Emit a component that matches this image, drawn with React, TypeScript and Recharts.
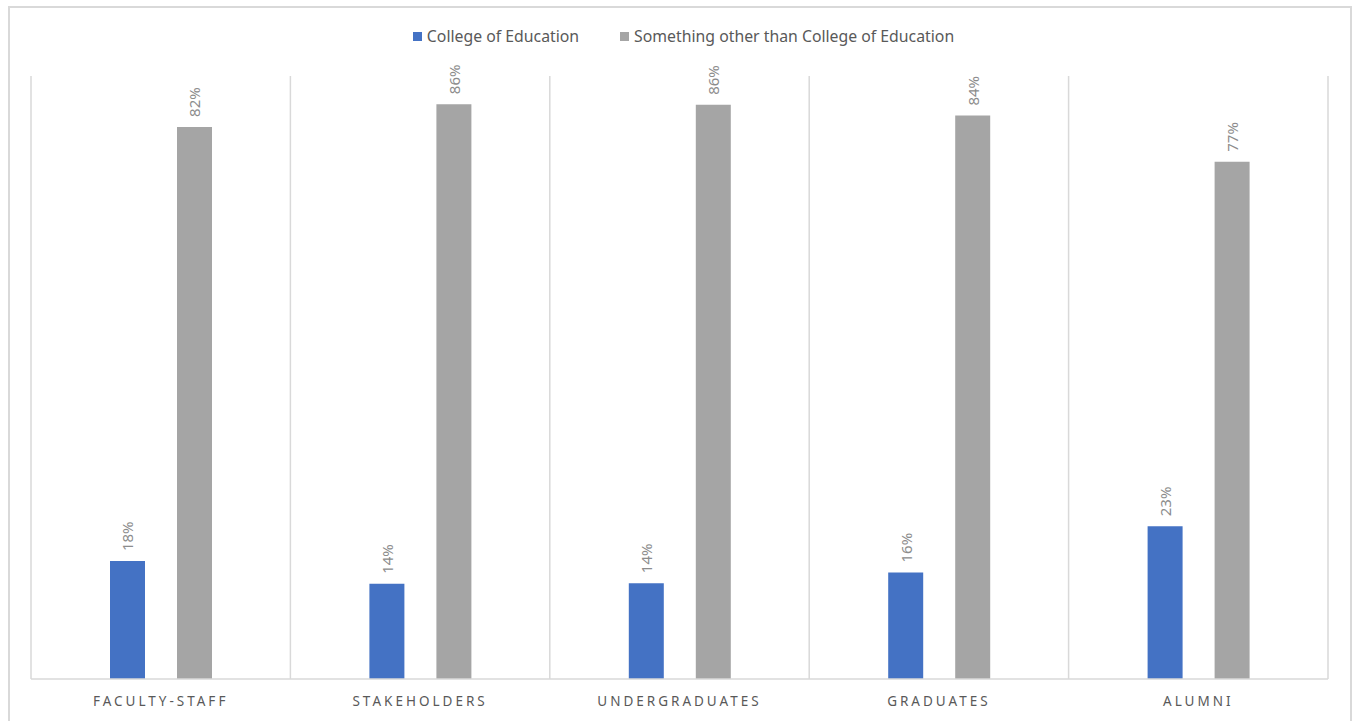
import React from "react";
import { BarChart, Bar, XAxis, YAxis, CartesianGrid, Legend, LabelList } from "recharts";

const categories = ["FACULTY-STAFF", "STAKEHOLDERS", "UNDERGRADUATES", "GRADUATES", "ALUMNI"];
const collegeOfEducation = [0.176, 0.142, 0.143, 0.159, 0.228];
const somethingOther = [0.824, 0.858, 0.857, 0.841, 0.772];
const seriesNames = ["College of Education", "Something other than College of Education"];
const seriesColors = ["#4472C4", "#A5A5A5"];

const data = categories.map((c, i) => ({
  name: c,
  coe: collegeOfEducation[i],
  other: somethingOther[i],
}));

const FONT = "'Noto Sans', 'Open Sans', sans-serif";

const pct = (v: number) => `${Math.round(v * 100)}%`;

const RotLabel = (props: any) => {
  const { x, y, width, value } = props;
  const cx = x + width / 2;
  const ty = y - 10;
  return (
    <text
      x={cx}
      y={ty}
      transform={`rotate(-90 ${cx} ${ty})`}
      textAnchor="start"
      dominantBaseline="central"
      fill="#8c8c8c"
      fontSize={15}
      fontFamily={FONT}
    >
      {pct(value)}
    </text>
  );
};

const Tick = (props: any) => {
  const { x, y, payload } = props;
  return (
    <text
      x={x}
      y={y + 19}
      textAnchor="middle"
      fill="#595959"
      fontSize={13.5}
      fontFamily={FONT}
      letterSpacing={3}
    >
      {payload.value}
    </text>
  );
};

const LegendContent = () => (
  <div
    style={{
      display: "flex",
      justifyContent: "center",
      gap: 41,
      fontFamily: FONT,
      fontSize: 15.8,
      color: "#595959",
      paddingLeft: 14,
    }}
  >
    {seriesNames.map((n, i) => (
      <div key={n} style={{ display: "flex", alignItems: "center" }}>
        <span
          style={{
            display: "inline-block",
            width: 9,
            height: 9,
            background: seriesColors[i],
            marginRight: 5,
          }}
        />
        <span>{n}</span>
      </div>
    ))}
  </div>
);

export default function App() {
  return (
    <div style={{ position: "absolute", left: 0, top: 0, width: 1353, height: 721, background: "#fff" }}>
      <div
        style={{
          position: "absolute",
          left: 8,
          top: 6,
          width: 1344,
          height: 730,
          border: "2px solid #d9d9d9",
          boxSizing: "border-box",
        }}
      />
      <div style={{ position: "absolute", left: 0, top: 0 }}>
        <BarChart
          width={1353}
          height={721}
          data={data}
          margin={{ top: 76, right: 25, left: 31, bottom: 0 }}
          barSize={35}
          barGap={32}
        >
          <CartesianGrid
            horizontal={false}
            stroke="#d9d9d9"
            strokeWidth={1.5}
            verticalCoordinatesGenerator={({ offset }: any) =>
              Array.from({ length: categories.length + 1 }, (_, i) => offset.left + (i * offset.width) / categories.length)
            }
          />
          <XAxis
            dataKey="name"
            height={42}
            tickLine={false}
            axisLine={{ stroke: "#d9d9d9", strokeWidth: 1.5 }}
            tick={<Tick />}
            interval={0}
          />
          <YAxis hide domain={[0, 0.9]} />
          <Legend
            layout="vertical"
            align="center"
            verticalAlign="middle"
            wrapperStyle={{ top: 25, left: 0, width: 1353 }}
            content={<LegendContent />}
          />
          <Bar dataKey="coe" name={seriesNames[0]} fill={seriesColors[0]} isAnimationActive={false}>
            <LabelList dataKey="coe" content={<RotLabel />} />
          </Bar>
          <Bar dataKey="other" name={seriesNames[1]} fill={seriesColors[1]} isAnimationActive={false}>
            <LabelList dataKey="other" content={<RotLabel />} />
          </Bar>
        </BarChart>
      </div>
    </div>
  );
}
